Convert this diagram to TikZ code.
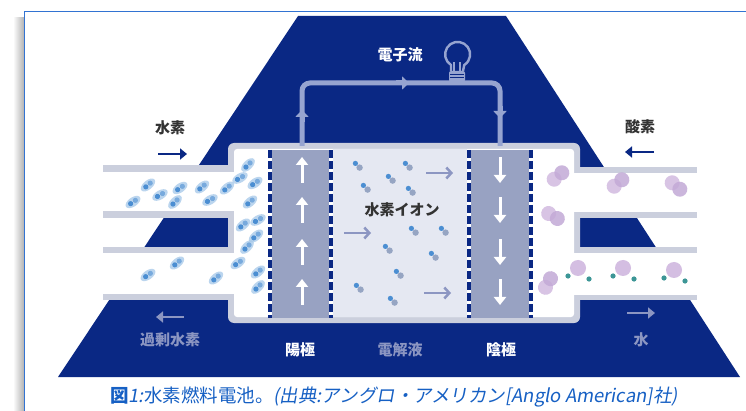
\documentclass[tikz,border=0pt]{standalone}
\usepackage{fontspec}
\usetikzlibrary{arrows.meta}
\newfontfamily\jp{Noto Sans CJK JP}
\newfontfamily\jpit[FakeSlant=0.18]{Noto Sans CJK JP}
\definecolor{navy}{RGB}{10,40,132}
\definecolor{pipegray}{RGB}{203,207,221}
\definecolor{elgray}{RGB}{152,162,194}
\definecolor{lyte}{RGB}{229,232,242}
\definecolor{wire}{RGB}{150,164,208}
\definecolor{soft}{RGB}{140,150,194}
\definecolor{ink}{RGB}{51,51,51}
\definecolor{capblue}{RGB}{22,96,196}
\definecolor{frameblue}{RGB}{50,115,210}
\definecolor{hdark}{RGB}{75,142,210}
\definecolor{hlight}{RGB}{165,200,233}
\definecolor{oxy}{RGB}{212,190,226}
\definecolor{oxyd}{RGB}{195,170,215}
\definecolor{hteal}{RGB}{60,150,150}
\definecolor{iongray}{RGB}{150,165,195}
\tikzset{
  lbl/.style={font=\jp\bfseries\fontsize{15}{17}\selectfont, inner sep=0pt},
  elarrow/.style={white, line width=3pt, -{Triangle[length=8pt,width=12pt]}},
  ionarrow/.style={soft, line width=2.5pt, -{Straight Barb[length=5pt,width=11pt]}},
  flowarrow/.style={line width=2.8pt, -{Triangle[length=7pt,width=11pt]}},
  wiretip/.style={wire, line width=5pt, -{Triangle[length=7pt,width=13pt]}},
  sep/.style={white, line width=4.5pt},
  sepdash/.style={navy, line width=4.5pt, dash pattern=on 8pt off 3pt},
  htwo/.pic={
    \fill[hlight,opacity=.75] (0,0) ellipse [x radius=8.5pt, y radius=4.6pt];
    \fill[hdark] (-2.9,0) circle[radius=2.6pt];
    \fill[hdark!75!white] (2.9,0) circle[radius=2.6pt];
  },
  ion/.pic={
    \fill[iongray] (2.6,2.6) circle[radius=3.2pt];
    \fill[hdark] (-1.6,-1.6) circle[radius=2.6pt];
  },
  otwo/.pic={
    \fill[oxy,opacity=.9] (-5,0) circle[radius=7.5pt];
    \fill[oxyd,opacity=.85] (5,0) circle[radius=7.5pt];
  },
  wat/.pic={
    \fill[oxy] (0,0) circle[radius=8pt];
    \fill[hteal] (-10,8) circle[radius=2.6pt];
    \fill[hteal] (11,11) circle[radius=2.6pt];
  },
}
\begin{document}
\begin{tikzpicture}[x=1pt,y=-1pt]
\useasboundingbox (0,0) rectangle (746,411);
\fill[white] (0,0) rectangle (746,411);

% frame with soft shadow on the left
\shade[left color=white, right color=black!30] (13,18) rectangle (24,411);
\draw[frameblue, line width=1.6pt] (24.5,411) -- (24.5,11.5) -- (746,11.5);

% navy pyramid
\fill[navy] (298,16) -- (506,16) -- (740,377) -- (58,377) -- cycle;

% cell body and pipes: grey walls
\fill[pipegray, rounded corners=6pt] (228,143) rectangle (580,323);
\fill[pipegray] (103,165) rectangle (232,218);
\fill[pipegray] (103,247) rectangle (232,300);
\fill[pipegray] (576,167) rectangle (697,218);
\fill[pipegray] (576,247) rectangle (697,300);

% white interiors
\fill[white, rounded corners=3pt] (234,149) rectangle (574,317);
\fill[white] (103,172) rectangle (236,211);
\fill[white] (103,253) rectangle (236,294);
\fill[white] (572,173) rectangle (697,212);
\fill[white] (572,253) rectangle (697,295);

% electrolyte and electrodes
\fill[lyte] (333,149) rectangle (467,317);
\fill[elgray] (272,150) rectangle (329,318);
\fill[elgray] (471,150) rectangle (529,318);
\foreach \x in {270,331,469,531}{
  \draw[sep] (\x,150) -- (\x,318);
  \draw[sepdash] (\x,150) -- (\x,318);
}

% hydrogen molecules
\foreach \x/\y/\r in {133/202/35,148/185/40,160/195/30,175/202/45,180/188/35,
  202/187/40,210/200/30,227/188/40,248/165/45,255/183/35,250/202/40,
  243/225/40,258/220/30,247/247/45,238/263/35,258/272/40,258/287/45,
  177/263/40,148/275/35,216/278/40,240/178/30,256/236/40}
  \pic[rotate=\r] at (\x,\y) {htwo};

% hydrogen ions in the electrolyte
\foreach \x/\y in {357/165,407/165,365/187,390/178,410/190,413/230,443/230,
  387/248,433/255,398/273,358/287,392/300}
  \pic at (\x,\y) {ion};

% oxygen and water
\foreach \x/\y/\r in {558/176/40,618/183/40,676/186/-40,553/216/-30,548/283/60}
  \pic[rotate=\r] at (\x,\y) {otwo};
\foreach \x/\y in {578/268,623/268,674/270}
  \pic at (\x,\y) {wat};

% arrows inside the electrodes
\foreach \y in {170,210,252,292}{
  \draw[elarrow] (302,\y+13) -- (302,\y-13);
  \draw[elarrow] (500,\y-13) -- (500,\y+13);
}
% ion drift arrows
\draw[ionarrow] (426,173) -- (453,173);
\draw[ionarrow] (344,233) -- (371,233);
\draw[ionarrow] (424,293) -- (451,293);

% external circuit
\draw[wire, line width=5pt, rounded corners=8pt] (302,146) -- (302,83) -- (500,83) -- (500,146);
\draw[wiretip] (302,122) -- (302,110);
\draw[wiretip] (396,83) -- (409,83);
\draw[wiretip] (500,106) -- (500,118);
% light bulb: glass, neck, screw base and filament
\draw[wire, line width=2.4pt, line join=round]
  (451,71) -- (451,65) arc[start angle=122, end angle=418, radius=12.5] -- (463,71);
\fill[wire, rounded corners=2pt] (449,71) rectangle (465,82);
\draw[navy, line width=1pt] (450,74.5) -- (464,74.5) (450,78) -- (464,78);
\draw[wire, line width=1.2pt] (454,71) -- (454,62) (460,71) -- (460,62);

% labels
\node[lbl, text=white] (eflow) at (400,55) {電子流};
\node[lbl, text=ink] (hyd) at (170,128) {水素};
\node[lbl, text=ink] (oxyg) at (640,127) {酸素};
\node[lbl, text=ink] (hion) at (402,210) {水素イオン};
\node[lbl, text=soft] (exh) at (170,340) {過剰水素};
\node[lbl, text=white] (anode) at (300,350) {陽極};
\node[lbl, text=soft] (elec) at (400,350) {電解液};
\node[lbl, text=white] (cathode) at (501,350) {陰極};
\node[lbl, text=soft] (water) at (641,340) {水};

\draw[flowarrow, navy] (158,154) -- (187,154);
\draw[flowarrow, navy] (654,152) -- (625,152);
\draw[flowarrow, soft] (184,317) -- (156,317);
\draw[flowarrow, soft] (627,313) -- (655,313);

% caption
\node[inner sep=0pt, text=capblue, font=\jp\fontsize{18.5}{20}\selectfont] (cap) at (394,397)
  {\bfseries 図\mdseries{\jpit 1:}水素燃料電池。{\jpit (出典:アングロ・アメリカン[Anglo American]社)}};
\end{tikzpicture}
\end{document}
